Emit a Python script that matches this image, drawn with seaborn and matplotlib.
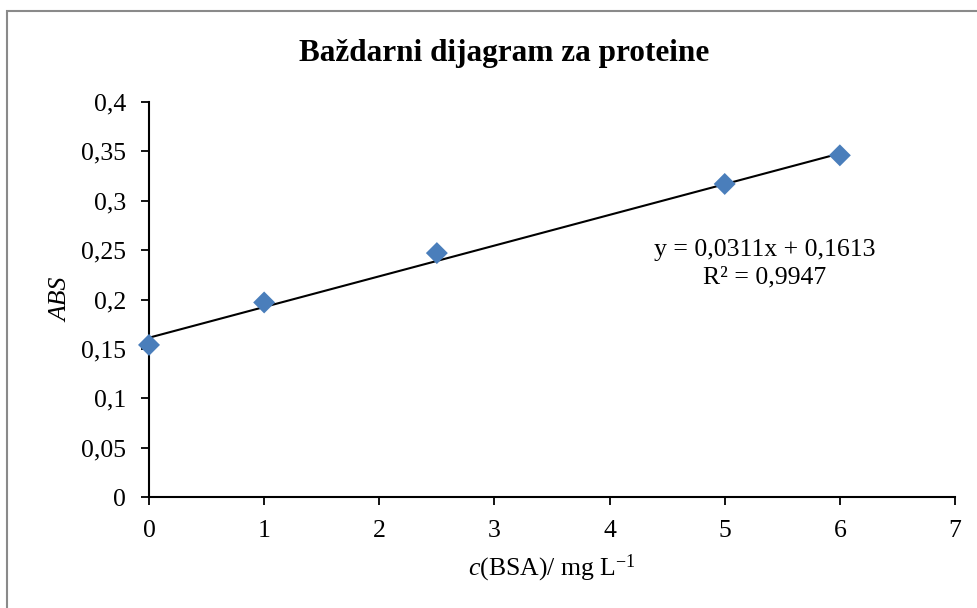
import matplotlib
matplotlib.use("Agg")
import matplotlib.pyplot as plt
import matplotlib.ticker as mticker
from matplotlib.patches import Rectangle
import numpy as np
import pandas as pd
import seaborn as sns

# Calibration data: BSA concentration vs. absorbance
conc = [0, 1, 2.5, 5, 6]
absorbance = [0.154, 0.197, 0.247, 0.317, 0.346]

# Linear trendline reported on the chart
slope = 0.0311
intercept = 0.1613
r_squared = 0.9947

x_ticks = [0, 1, 2, 3, 4, 5, 6, 7]
y_ticks = [0, 0.05, 0.1, 0.15, 0.2, 0.25, 0.3, 0.35, 0.4]

title = "Baždarni dijagram za proteine"

sns.set_style("white")
plt.rcParams["font.family"] = ["Liberation Serif", "DejaVu Serif"]
plt.rcParams["mathtext.fontset"] = "custom"
plt.rcParams["mathtext.rm"] = "Liberation Serif"
plt.rcParams["mathtext.it"] = "Liberation Serif:italic"
plt.rcParams["text.color"] = "black"
plt.rcParams["axes.labelcolor"] = "black"
plt.rcParams["xtick.color"] = "black"
plt.rcParams["ytick.color"] = "black"

FS = 18.5

W, H = 978, 608
fig = plt.figure(figsize=(W / 100, H / 100), dpi=100)
ax = fig.add_axes([149 / W, 1 - 497 / H, (955 - 149) / W, (497 - 102) / H])

df = pd.DataFrame({"c": conc, "abs": absorbance})
x_fit = np.array([min(conc), max(conc)])
fit_df = pd.DataFrame({"c": x_fit, "abs": slope * x_fit + intercept})

sns.lineplot(data=fit_df, x="c", y="abs", ax=ax, color="black", linewidth=1.5, zorder=2)
sns.scatterplot(data=df, x="c", y="abs", ax=ax, marker="D", s=125,
                color="#4a7ebb", edgecolor="none", zorder=3, clip_on=False)

ax.set_xlim(0, 7)
ax.set_ylim(0, 0.4)
ax.set_xticks(x_ticks)
ax.set_yticks(y_ticks)

def comma_fmt(v, pos):
    s = f"{v:.2f}".rstrip("0").rstrip(".")
    return s.replace(".", ",")

ax.xaxis.set_major_formatter(mticker.FuncFormatter(comma_fmt))
ax.yaxis.set_major_formatter(mticker.FuncFormatter(comma_fmt))

for side in ["top", "right"]:
    ax.spines[side].set_visible(False)
for side in ["left", "bottom"]:
    ax.spines[side].set_color("black")
    ax.spines[side].set_linewidth(1.5)

ax.tick_params(axis="both", which="major", direction="out", length=5.5, width=1.3,
               color="black", labelsize=FS, labelcolor="black")
ax.tick_params(axis="x", pad=11)
ax.tick_params(axis="y", pad=11)
ax.xaxis.set_ticks_position("bottom")
ax.yaxis.set_ticks_position("left")

ax.set_xlabel(r"$\mathit{c}$(BSA)/ mg L$^{\mathrm{-1}}$", fontsize=FS, labelpad=8)
ax.set_ylabel("ABS", fontsize=FS, style="italic", labelpad=6)

ax.text(5.35, 0.2365, f"y = {slope:.4f}x + {intercept:.4f}\nR² = {r_squared:.4f}".replace(".", ","),
        ha="center", va="center", fontsize=FS, linespacing=1.3)

fig.text(504 / W, 1 - 54 / H, title, ha="center", va="center",
         fontsize=22.5, fontweight="bold")

# Chart area frame
fig.patches.append(Rectangle((7 / W, -0.05), 1.2, 1 - 11 / H + 0.05,
                             transform=fig.transFigure, fill=False,
                             edgecolor="#8a8a8a", linewidth=1.5, zorder=0))

fig.savefig("out.png", dpi=100)
